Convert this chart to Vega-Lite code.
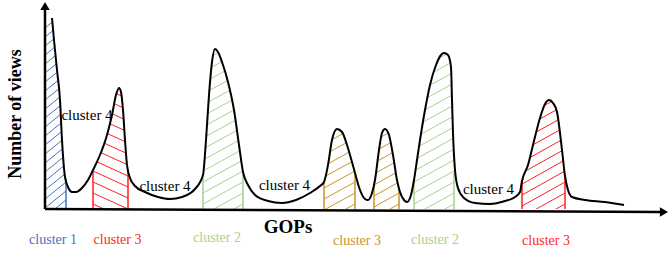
{
  "$schema": "https://vega.github.io/schema/vega-lite/v6.json",
  "width": 623,
  "height": 204,
  "autosize": {"type": "none"},
  "padding": {"left": 45, "top": 5, "right": 0, "bottom": 46},
  "background": "white",
  "config": {"view": {"stroke": null}},
  "datasets": {
    "curve": [
      {"x": 7, "y": 191}, {"x": 9, "y": 169}, {"x": 12, "y": 139}, {"x": 15, "y": 109}, {"x": 17, "y": 69},
      {"x": 20, "y": 32}, {"x": 23, "y": 22}, {"x": 27, "y": 17}, {"x": 31, "y": 17}, {"x": 37, "y": 21},
      {"x": 43, "y": 29}, {"x": 48, "y": 39}, {"x": 55, "y": 54}, {"x": 62, "y": 74}, {"x": 67, "y": 94},
      {"x": 71, "y": 114}, {"x": 74, "y": 121}, {"x": 76, "y": 117}, {"x": 78, "y": 99}, {"x": 80, "y": 69},
      {"x": 82, "y": 44}, {"x": 85, "y": 31}, {"x": 90, "y": 23}, {"x": 100, "y": 17}, {"x": 113, "y": 12},
      {"x": 125, "y": 10}, {"x": 137, "y": 12}, {"x": 150, "y": 20}, {"x": 158, "y": 34}, {"x": 161, "y": 69},
      {"x": 164, "y": 114}, {"x": 167, "y": 147}, {"x": 170, "y": 160}, {"x": 173, "y": 157}, {"x": 177, "y": 147},
      {"x": 183, "y": 127}, {"x": 189, "y": 99}, {"x": 194, "y": 64}, {"x": 198, "y": 37}, {"x": 203, "y": 24},
      {"x": 210, "y": 14}, {"x": 223, "y": 8}, {"x": 237, "y": 6}, {"x": 251, "y": 9}, {"x": 265, "y": 16},
      {"x": 275, "y": 23}, {"x": 279, "y": 27}, {"x": 283, "y": 44}, {"x": 287, "y": 69}, {"x": 292, "y": 80},
      {"x": 297, "y": 77}, {"x": 302, "y": 64}, {"x": 307, "y": 47}, {"x": 310, "y": 36}, {"x": 315, "y": 19},
      {"x": 320, "y": 10}, {"x": 323, "y": 9}, {"x": 327, "y": 16}, {"x": 330, "y": 29}, {"x": 334, "y": 59},
      {"x": 337, "y": 76}, {"x": 340, "y": 80}, {"x": 344, "y": 74}, {"x": 348, "y": 54}, {"x": 352, "y": 29},
      {"x": 355, "y": 17}, {"x": 359, "y": 9}, {"x": 362, "y": 7}, {"x": 366, "y": 14}, {"x": 369, "y": 29},
      {"x": 372, "y": 49}, {"x": 375, "y": 69}, {"x": 380, "y": 99}, {"x": 385, "y": 124}, {"x": 391, "y": 144},
      {"x": 396, "y": 154}, {"x": 399, "y": 156}, {"x": 403, "y": 154}, {"x": 406, "y": 142}, {"x": 407, "y": 109},
      {"x": 408, "y": 76}, {"x": 410, "y": 39}, {"x": 413, "y": 21}, {"x": 419, "y": 11}, {"x": 430, "y": 6},
      {"x": 445, "y": 5}, {"x": 460, "y": 8}, {"x": 470, "y": 12}, {"x": 475, "y": 17}, {"x": 477, "y": 28},
      {"x": 483, "y": 44}, {"x": 488, "y": 64}, {"x": 495, "y": 91}, {"x": 500, "y": 105}, {"x": 504, "y": 109},
      {"x": 508, "y": 106}, {"x": 512, "y": 97}, {"x": 517, "y": 59}, {"x": 520, "y": 33}, {"x": 523, "y": 19},
      {"x": 527, "y": 12}, {"x": 540, "y": 9}, {"x": 560, "y": 7}, {"x": 579, "y": 4}
    ],
    "hatch": [
      {"g": "b", "x": 0, "y": -8, "x2": 21, "y2": 9}, {"g": "b", "x": 0, "y": 1, "x2": 21, "y2": 18},
      {"g": "b", "x": 0, "y": 10, "x2": 21, "y2": 27}, {"g": "b", "x": 0, "y": 19, "x2": 21, "y2": 36},
      {"g": "b", "x": 0, "y": 28, "x2": 21, "y2": 45}, {"g": "b", "x": 0, "y": 37, "x2": 21, "y2": 54},
      {"g": "b", "x": 0, "y": 46, "x2": 21, "y2": 63}, {"g": "b", "x": 0, "y": 55, "x2": 21, "y2": 72},
      {"g": "b", "x": 0, "y": 64, "x2": 21, "y2": 81}, {"g": "b", "x": 0, "y": 73, "x2": 21, "y2": 90},
      {"g": "b", "x": 0, "y": 82, "x2": 21, "y2": 99}, {"g": "b", "x": 0, "y": 91, "x2": 21, "y2": 108},
      {"g": "b", "x": 0, "y": 100, "x2": 21, "y2": 117}, {"g": "b", "x": 0, "y": 109, "x2": 21, "y2": 126},
      {"g": "b", "x": 0, "y": 118, "x2": 21, "y2": 135}, {"g": "b", "x": 0, "y": 127, "x2": 21, "y2": 144},
      {"g": "b", "x": 0, "y": 136, "x2": 21, "y2": 153}, {"g": "b", "x": 0, "y": 145, "x2": 21, "y2": 162},
      {"g": "b", "x": 0, "y": 154, "x2": 21, "y2": 171}, {"g": "b", "x": 0, "y": 163, "x2": 21, "y2": 180},
      {"g": "b", "x": 0, "y": 172, "x2": 21, "y2": 189}, {"g": "b", "x": 0, "y": 181, "x2": 21, "y2": 198},
      {"g": "r", "x": 48, "y": 5, "x2": 83, "y2": -11}, {"g": "r", "x": 48, "y": 16, "x2": 83, "y2": 0},
      {"g": "r", "x": 48, "y": 27, "x2": 83, "y2": 11}, {"g": "r", "x": 48, "y": 38, "x2": 83, "y2": 22},
      {"g": "r", "x": 48, "y": 49, "x2": 83, "y2": 33}, {"g": "r", "x": 48, "y": 60, "x2": 83, "y2": 44},
      {"g": "r", "x": 48, "y": 71, "x2": 83, "y2": 55}, {"g": "r", "x": 48, "y": 82, "x2": 83, "y2": 66},
      {"g": "r", "x": 48, "y": 93, "x2": 83, "y2": 77}, {"g": "r", "x": 48, "y": 104, "x2": 83, "y2": 88},
      {"g": "r", "x": 48, "y": 115, "x2": 83, "y2": 99}, {"g": "r", "x": 48, "y": 126, "x2": 83, "y2": 110},
      {"g": "g", "x": 158, "y": -17, "x2": 198, "y2": 5}, {"g": "g", "x": 158, "y": -6, "x2": 198, "y2": 16},
      {"g": "g", "x": 158, "y": 5, "x2": 198, "y2": 27}, {"g": "g", "x": 158, "y": 16, "x2": 198, "y2": 38},
      {"g": "g", "x": 158, "y": 27, "x2": 198, "y2": 49}, {"g": "g", "x": 158, "y": 38, "x2": 198, "y2": 60},
      {"g": "g", "x": 158, "y": 49, "x2": 198, "y2": 71}, {"g": "g", "x": 158, "y": 60, "x2": 198, "y2": 82},
      {"g": "g", "x": 158, "y": 71, "x2": 198, "y2": 93}, {"g": "g", "x": 158, "y": 82, "x2": 198, "y2": 104},
      {"g": "g", "x": 158, "y": 93, "x2": 198, "y2": 115}, {"g": "g", "x": 158, "y": 104, "x2": 198, "y2": 126},
      {"g": "g", "x": 158, "y": 115, "x2": 198, "y2": 137}, {"g": "g", "x": 158, "y": 126, "x2": 198, "y2": 148},
      {"g": "g", "x": 158, "y": 137, "x2": 198, "y2": 159}, {"g": "g", "x": 158, "y": 148, "x2": 198, "y2": 170},
      {"g": "o", "x": 279, "y": -12, "x2": 310, "y2": 5}, {"g": "o", "x": 279, "y": -1, "x2": 310, "y2": 16},
      {"g": "o", "x": 279, "y": 10, "x2": 310, "y2": 27}, {"g": "o", "x": 279, "y": 21, "x2": 310, "y2": 38},
      {"g": "o", "x": 279, "y": 32, "x2": 310, "y2": 49}, {"g": "o", "x": 279, "y": 43, "x2": 310, "y2": 60},
      {"g": "o", "x": 279, "y": 54, "x2": 310, "y2": 71}, {"g": "o", "x": 279, "y": 65, "x2": 310, "y2": 82},
      {"g": "o", "x": 279, "y": 76, "x2": 310, "y2": 93},
      {"g": "o", "x": 329, "y": -9, "x2": 354, "y2": 5}, {"g": "o", "x": 329, "y": 2, "x2": 354, "y2": 16},
      {"g": "o", "x": 329, "y": 13, "x2": 354, "y2": 27}, {"g": "o", "x": 329, "y": 24, "x2": 354, "y2": 38},
      {"g": "o", "x": 329, "y": 35, "x2": 354, "y2": 49}, {"g": "o", "x": 329, "y": 46, "x2": 354, "y2": 60},
      {"g": "o", "x": 329, "y": 57, "x2": 354, "y2": 71}, {"g": "o", "x": 329, "y": 68, "x2": 354, "y2": 82},
      {"g": "g", "x": 369, "y": -17, "x2": 409, "y2": 5}, {"g": "g", "x": 369, "y": -6, "x2": 409, "y2": 16},
      {"g": "g", "x": 369, "y": 5, "x2": 409, "y2": 27}, {"g": "g", "x": 369, "y": 16, "x2": 409, "y2": 38},
      {"g": "g", "x": 369, "y": 27, "x2": 409, "y2": 49}, {"g": "g", "x": 369, "y": 38, "x2": 409, "y2": 60},
      {"g": "g", "x": 369, "y": 49, "x2": 409, "y2": 71}, {"g": "g", "x": 369, "y": 60, "x2": 409, "y2": 82},
      {"g": "g", "x": 369, "y": 71, "x2": 409, "y2": 93}, {"g": "g", "x": 369, "y": 82, "x2": 409, "y2": 104},
      {"g": "g", "x": 369, "y": 93, "x2": 409, "y2": 115}, {"g": "g", "x": 369, "y": 104, "x2": 409, "y2": 126},
      {"g": "g", "x": 369, "y": 115, "x2": 409, "y2": 137}, {"g": "g", "x": 369, "y": 126, "x2": 409, "y2": 148},
      {"g": "g", "x": 369, "y": 137, "x2": 409, "y2": 159}, {"g": "g", "x": 369, "y": 148, "x2": 409, "y2": 170},
      {"g": "r", "x": 477, "y": -19, "x2": 520, "y2": 5}, {"g": "r", "x": 477, "y": -8, "x2": 520, "y2": 16},
      {"g": "r", "x": 477, "y": 3, "x2": 520, "y2": 27}, {"g": "r", "x": 477, "y": 14, "x2": 520, "y2": 38},
      {"g": "r", "x": 477, "y": 25, "x2": 520, "y2": 49}, {"g": "r", "x": 477, "y": 36, "x2": 520, "y2": 60},
      {"g": "r", "x": 477, "y": 47, "x2": 520, "y2": 71}, {"g": "r", "x": 477, "y": 58, "x2": 520, "y2": 82},
      {"g": "r", "x": 477, "y": 69, "x2": 520, "y2": 93}, {"g": "r", "x": 477, "y": 80, "x2": 520, "y2": 104},
      {"g": "r", "x": 477, "y": 91, "x2": 520, "y2": 115}
    ],
    "bounds": [
      {"g": "b", "x": 21, "top": 30},
      {"g": "r", "x": 48, "top": 39}, {"g": "r", "x": 83, "top": 40},
      {"g": "g", "x": 158, "top": 34}, {"g": "g", "x": 198, "top": 37},
      {"g": "o", "x": 279, "top": 27}, {"g": "o", "x": 310, "top": 36},
      {"g": "o", "x": 329, "top": 25}, {"g": "o", "x": 354, "top": 21},
      {"g": "g", "x": 369, "top": 29}, {"g": "g", "x": 409, "top": 36},
      {"g": "r", "x": 477, "top": 28}, {"g": "r", "x": 520, "top": 33}
    ],
    "inner": [
      {"label": "cluster 4", "x": 42, "y": 94},
      {"label": "cluster 4", "x": 120, "y": 23},
      {"label": "cluster 4", "x": 239.5, "y": 24},
      {"label": "cluster 4", "x": 443.5, "y": 20}
    ],
    "bottom": [
      {"label": "cluster 1", "g": "b", "x": 8, "y": -31},
      {"label": "cluster 3", "g": "r", "x": 72.5, "y": -31},
      {"label": "cluster 2", "g": "g", "x": 172, "y": -29},
      {"label": "cluster 3", "g": "o", "x": 312, "y": -32},
      {"label": "cluster 2", "g": "g", "x": 390, "y": -31},
      {"label": "cluster 3", "g": "r", "x": 501, "y": -32}
    ],
    "axes": [
      {"x": 0, "y": 0, "x2": 0, "y2": 200},
      {"x": 0, "y": 0, "x2": 616, "y2": -3}
    ],
    "arrows": [
      {"dir": "up", "x": 0, "y": 203},
      {"dir": "right", "x": 619, "y": -3}
    ],
    "xtitle": [{"label": "GOPs", "x": 243, "y": -18}],
    "ytitle": [{"label": "Number of views", "x": -29, "y": 95}]
  },
  "layer": [
    {
      "data": {"name": "hatch"},
      "mark": {"type": "rule", "strokeWidth": 1, "clip": true},
      "encoding": {
        "x": {"field": "x", "type": "quantitative", "scale": {"domain": [0, 623], "nice": false, "zero": false}, "axis": null},
        "y": {"field": "y", "type": "quantitative", "scale": {"domain": [0, 204], "nice": false, "zero": false}, "axis": null},
        "x2": {"field": "x2"},
        "y2": {"field": "y2"},
        "color": {"field": "g", "type": "nominal", "scale": {"domain": ["b", "r", "g", "o"], "range": ["#4472c4", "#ff1f1f", "#a9d18e", "#c9952b"]}, "legend": null}
      }
    },
    {
      "data": {"name": "curve"},
      "mark": {"type": "area", "interpolate": "monotone", "color": "white", "clip": true},
      "encoding": {
        "x": {"field": "x", "type": "quantitative", "scale": {"domain": [0, 623], "nice": false, "zero": false}, "axis": null},
        "y": {"field": "y", "type": "quantitative", "scale": {"domain": [0, 204], "nice": false, "zero": false}, "axis": null},
        "y2": {"datum": 204}
      }
    },
    {
      "data": {"name": "bounds"},
      "mark": {"type": "rule", "strokeWidth": 1.5},
      "encoding": {
        "x": {"field": "x", "type": "quantitative", "scale": {"domain": [0, 623], "nice": false, "zero": false}, "axis": null},
        "y": {"field": "top", "type": "quantitative", "scale": {"domain": [0, 204], "nice": false, "zero": false}, "axis": null},
        "y2": {"datum": 0},
        "color": {"field": "g", "type": "nominal", "scale": {"domain": ["b", "r", "g", "o"], "range": ["#4472c4", "#ff1f1f", "#a9d18e", "#c9952b"]}, "legend": null}
      }
    },
    {
      "data": {"name": "curve"},
      "mark": {"type": "line", "interpolate": "monotone", "color": "black", "strokeWidth": 2},
      "encoding": {
        "x": {"field": "x", "type": "quantitative", "scale": {"domain": [0, 623], "nice": false, "zero": false}, "axis": null},
        "y": {"field": "y", "type": "quantitative", "scale": {"domain": [0, 204], "nice": false, "zero": false}, "axis": null}
      }
    },
    {
      "data": {"name": "axes"},
      "mark": {"type": "rule", "color": "black", "strokeWidth": 2.5},
      "encoding": {
        "x": {"field": "x", "type": "quantitative", "scale": {"domain": [0, 623], "nice": false, "zero": false}, "axis": null},
        "y": {"field": "y", "type": "quantitative", "scale": {"domain": [0, 204], "nice": false, "zero": false}, "axis": null},
        "x2": {"field": "x2"},
        "y2": {"field": "y2"}
      }
    },
    {
      "data": {"name": "arrows"},
      "mark": {"type": "point", "filled": true, "color": "black", "opacity": 1, "size": 90},
      "encoding": {
        "x": {"field": "x", "type": "quantitative", "scale": {"domain": [0, 623], "nice": false, "zero": false}, "axis": null},
        "y": {"field": "y", "type": "quantitative", "scale": {"domain": [0, 204], "nice": false, "zero": false}, "axis": null},
        "shape": {"field": "dir", "type": "nominal", "scale": {"domain": ["up", "right"], "range": ["triangle-up", "triangle-right"]}, "legend": null}
      }
    },
    {
      "data": {"name": "inner"},
      "mark": {"type": "text", "font": "Liberation Serif", "fontSize": 15, "color": "black", "align": "center", "baseline": "middle"},
      "encoding": {
        "x": {"field": "x", "type": "quantitative", "scale": {"domain": [0, 623], "nice": false, "zero": false}, "axis": null},
        "y": {"field": "y", "type": "quantitative", "scale": {"domain": [0, 204], "nice": false, "zero": false}, "axis": null},
        "text": {"field": "label"}
      }
    },
    {
      "data": {"name": "bottom"},
      "mark": {"type": "text", "font": "Liberation Serif", "fontSize": 14, "align": "center", "baseline": "middle"},
      "encoding": {
        "x": {"field": "x", "type": "quantitative", "scale": {"domain": [0, 623], "nice": false, "zero": false}, "axis": null},
        "y": {"field": "y", "type": "quantitative", "scale": {"domain": [0, 204], "nice": false, "zero": false}, "axis": null},
        "text": {"field": "label"},
        "color": {"field": "g", "type": "nominal", "scale": {"domain": ["b", "r", "g", "o"], "range": ["#4472c4", "#ff1f1f", "#a9d18e", "#c9952b"]}, "legend": null}
      }
    },
    {
      "data": {"name": "xtitle"},
      "mark": {"type": "text", "font": "Liberation Serif", "fontSize": 19, "fontWeight": "bold", "color": "black", "align": "center", "baseline": "middle"},
      "encoding": {
        "x": {"field": "x", "type": "quantitative", "scale": {"domain": [0, 623], "nice": false, "zero": false}, "axis": null},
        "y": {"field": "y", "type": "quantitative", "scale": {"domain": [0, 204], "nice": false, "zero": false}, "axis": null},
        "text": {"field": "label"}
      }
    },
    {
      "data": {"name": "ytitle"},
      "mark": {"type": "text", "font": "Liberation Serif", "fontSize": 18, "fontWeight": "bold", "color": "black", "align": "center", "baseline": "middle", "angle": 270},
      "encoding": {
        "x": {"field": "x", "type": "quantitative", "scale": {"domain": [0, 623], "nice": false, "zero": false}, "axis": null},
        "y": {"field": "y", "type": "quantitative", "scale": {"domain": [0, 204], "nice": false, "zero": false}, "axis": null},
        "text": {"field": "label"}
      }
    }
  ]
}
